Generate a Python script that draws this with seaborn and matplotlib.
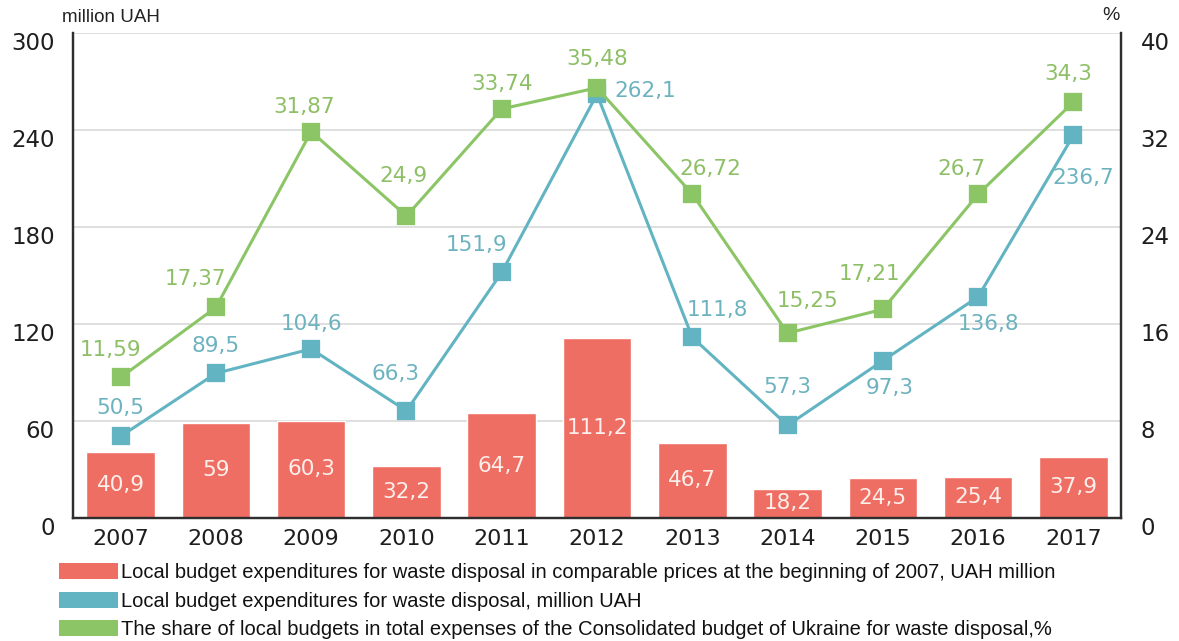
import matplotlib
matplotlib.use("Agg")
import matplotlib.pyplot as plt
from matplotlib.patches import Patch
from matplotlib.transforms import ScaledTranslation
import pandas as pd
import seaborn as sns

# Waste disposal expenditures of Ukrainian local budgets, 2007-2017
years = ["2007", "2008", "2009", "2010", "2011", "2012", "2013", "2014", "2015", "2016", "2017"]
comparable_prices = [40.9, 59, 60.3, 32.2, 64.7, 111.2, 46.7, 18.2, 24.5, 25.4, 37.9]
nominal_spending = [50.5, 89.5, 104.6, 66.3, 151.9, 262.1, 111.8, 57.3, 97.3, 136.8, 236.7]
share_percent = [11.59, 17.37, 31.87, 24.9, 33.74, 35.48, 26.72, 15.25, 17.21, 26.7, 34.3]

left_ticks = [0, 60, 120, 180, 240, 300]
right_ticks = [0, 8, 16, 24, 32, 40]

legend_labels = [
    "Local budget expenditures for waste disposal in comparable prices at the beginning of 2007, UAH million",
    "Local budget expenditures for waste disposal, million UAH",
    "The share of local budgets in total expenses of the Consolidated budget of Ukraine for waste disposal,%",
]

# label placement relative to each point, in pixels (dx, dy)
nominal_offsets = [(0, 28), (0, 27), (0, 25), (-11, 37), (-25, 27), (48, 3),
                   (25, 27), (0, 38), (7, -27), (10, -27), (10, -43)]
share_offsets = [(-10, 27), (-20, 28), (-7, 25), (-3, 40), (0, 25), (0, 29),
                 (18, 25), (20, 32), (-13, 35), (-17, 25), (-5, 28)]

BAR = "#ef6e63"
BLUE = "#62b4c2"
GREEN = "#8cc566"
BLUE_TXT = "#6cb3bf"
GREEN_TXT = "#8dbf66"
NUM_FONT = "DejaVu Sans"

df = pd.DataFrame({
    "year": years,
    "comparable": comparable_prices,
    "nominal": nominal_spending,
    "share": share_percent,
})


def fmt(v):
    return f"{v:g}".replace(".", ",")


sns.set_theme(style="white")
plt.rcParams["font.family"] = ["Liberation Sans", "DejaVu Sans"]

fig = plt.figure(figsize=(11.79, 6.41), dpi=100)
ax = fig.add_axes([73 / 1179, 1 - 518 / 641, (1121 - 73) / 1179, (518 - 33) / 641])

sns.barplot(data=df, x="year", y="comparable", color=BAR, saturation=1,
            width=0.72, ax=ax, zorder=2)
ax.bar_label(ax.containers[0], labels=[fmt(v) for v in comparable_prices],
             label_type="center", color="#fdf0ec", fontsize=15.5,
             family=NUM_FONT)

sns.pointplot(data=df, x="year", y="nominal", color=BLUE, markers="s",
              markersize=11.5, linewidth=2.2, ax=ax, zorder=3)

ax2 = ax.twinx()
sns.pointplot(data=df, x="year", y="share", color=GREEN, markers="s",
              markersize=11.5, linewidth=2.2, ax=ax2, zorder=3)

ax.set_ylim(0, 300)
ax2.set_ylim(0, 40)
ax.set_xlim(-0.5, len(years) - 0.5)
ax.set_yticks(left_ticks)
ax2.set_yticks(right_ticks)

for i, v in enumerate(nominal_spending):
    dx, dy = nominal_offsets[i]
    ax.annotate(fmt(v), (i, v), xytext=(dx, dy), textcoords="offset pixels",
                ha="center", va="center", color=BLUE_TXT, fontsize=15.5,
                family=NUM_FONT, zorder=5)
for i, v in enumerate(share_percent):
    dx, dy = share_offsets[i]
    ax2.annotate(fmt(v), (i, v), xytext=(dx, dy), textcoords="offset pixels",
                 ha="center", va="center", color=GREEN_TXT, fontsize=15.5,
                 family=NUM_FONT, zorder=5)

ax.yaxis.grid(True, color="#dcdcdc", linewidth=1.3)
ax.set_axisbelow(True)
ax.set_xlabel("")
ax.set_ylabel("")
ax2.set_ylabel("")

for a in (ax, ax2):
    a.tick_params(axis="both", length=0, colors="#1e1e1e")
    a.tick_params(axis="x", labelsize=16)
    a.tick_params(axis="y", labelsize=16.5)
    for lab in a.get_xticklabels() + a.get_yticklabels():
        lab.set_family(NUM_FONT)
    for side in ("left", "right", "bottom"):
        a.spines[side].set_color("#2e2e2e")
        a.spines[side].set_linewidth(1.6)
    a.spines["top"].set_visible(False)
ax.tick_params(axis="y", pad=13)
ax2.tick_params(axis="y", pad=14)
ax.tick_params(axis="x", pad=8)

# value labels on both vertical axes sit slightly below their gridlines
shift_down = ScaledTranslation(0, -8 / 100, fig.dpi_scale_trans)
for lab in ax.get_yticklabels() + ax2.get_yticklabels():
    lab.set_transform(lab.get_transform() + shift_down)

fig.text(62 / 1179, 1 - 18 / 641, "million UAH", fontsize=13.5, color="#222222",
         va="center", ha="left")
fig.text(1111 / 1179, 1 - 15 / 641, "%", fontsize=14, color="#222222",
         va="center", ha="center")

handles = [Patch(facecolor=c, edgecolor="none") for c in (BAR, BLUE, GREEN)]
fig.legend(handles=handles, labels=legend_labels, loc="upper left",
           bbox_to_anchor=(59 / 1179, 1 - 563 / 641), frameon=False,
           fontsize=14.5, handlelength=2.95, handleheight=0.85,
           handletextpad=0.15, labelspacing=0.48, borderpad=0,
           borderaxespad=0, labelcolor="#111111")

fig.savefig("out.png", dpi=100)
